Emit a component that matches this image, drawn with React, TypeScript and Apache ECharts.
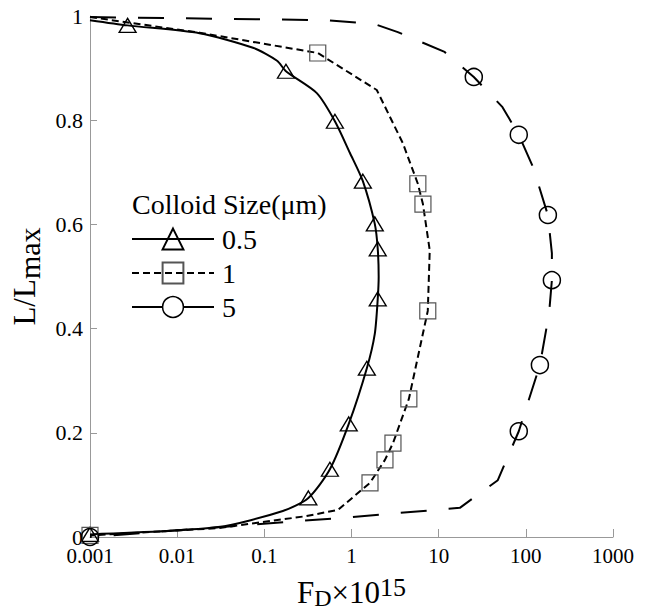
import React, { useEffect, useRef } from 'react';
import * as echarts from 'echarts';

const FONT = 'Liberation Serif';

const sizeNames = ['0.5', '1', '5'];
const legendTitle = 'Colloid Size(μm)';

// Colloid size 0.5 µm (solid, triangles)
const fd05 = [0.001, 0.0027, 0.018, 0.074, 0.14, 0.177, 0.4, 0.645, 0.96, 1.35, 1.85, 2.0, 2.05, 2.0, 1.85, 1.5, 0.93, 0.565, 0.32, 0.163, 0.0295, 0.001];
const l05 = [0.992, 0.982, 0.967, 0.939, 0.914, 0.894, 0.852, 0.798, 0.737, 0.683, 0.601, 0.553, 0.5, 0.457, 0.39, 0.324, 0.217, 0.13, 0.075, 0.05, 0.019, 0.005];
const mk05 = [0, 1, 0, 0, 0, 1, 0, 1, 0, 1, 1, 1, 0, 1, 0, 1, 1, 1, 1, 0, 0, 1];

// Colloid size 1 µm (short dash, squares)
const fd1 = [0.001, 0.018, 0.41, 1.95, 3.88, 5.77, 6.6, 7.9, 7.5, 4.55, 2.99, 2.42, 1.63, 0.7, 0.3, 0.03, 0.001];
const l1 = [0.998, 0.968, 0.929, 0.858, 0.756, 0.678, 0.639, 0.55, 0.434, 0.265, 0.18, 0.148, 0.104, 0.052, 0.04, 0.017, 0.003];
const mk1 = [0, 0, 1, 0, 0, 1, 1, 0, 1, 1, 1, 1, 1, 0, 0, 0, 1];

// Colloid size 5 µm (long dash, circles)
const fd5 = [0.001, 0.5, 1.8, 3.4, 11.7, 25.3, 54, 83, 121, 179, 199, 199, 185, 145, 83, 47.7, 17.5, 0.96, 0.001];
const l5 = [0.998, 0.992, 0.985, 0.969, 0.931, 0.883, 0.825, 0.772, 0.71, 0.618, 0.545, 0.493, 0.43, 0.33, 0.203, 0.109, 0.056, 0.038, 0.0];
const mk5 = [0, 0, 0, 0, 0, 1, 0, 1, 0, 1, 0, 1, 0, 1, 1, 0, 0, 0, 1];

const xMin = 0.001;
const xMax = 1000;
const yMin = 0;
const yMax = 1;
const yStep = 0.2;

function build(xs: number[], ys: number[], mk: number[], symbol: string) {
  return xs.map((x, i) => ({ value: [x, ys[i]], symbol: mk[i] ? symbol : 'none' }));
}

export default function App() {
  const ref = useRef<HTMLDivElement>(null);
  useEffect(() => {
    if (!ref.current) return;
    const chart = echarts.init(ref.current, undefined, { renderer: 'svg' });
    const axisGray = '#999';
    const option: any = {
      animation: false,
      backgroundColor: '#fff',
      textStyle: { fontFamily: FONT },
      title: {
        text: legendTitle,
        left: 132,
        top: 190,
        padding: 0,
        textStyle: { fontFamily: FONT, fontSize: 28, fontWeight: 'normal', color: '#000' },
      },
      legend: {
        orient: 'vertical',
        left: 131,
        top: 225,
        padding: 0,
        itemWidth: 82,
        itemHeight: 26,
        itemGap: 6,
        selectedMode: false,
        textStyle: { fontFamily: FONT, fontSize: 28, color: '#000', padding: [0, 0, 0, 3] },
        data: [
          { name: sizeNames[0] },
          { name: sizeNames[1] },
          {
            name: sizeNames[2],
            itemStyle: { color: '#fff', borderColor: '#000', borderWidth: 1.5 },
            lineStyle: { type: 'solid', color: '#000', width: 2 },
          },
        ],
      },
      grid: { left: 90, right: 33, top: 16, bottom: 73, containLabel: false, outerBoundsMode: 'none' },
      xAxis: {
        type: 'log',
        logBase: 10,
        min: xMin,
        max: xMax,
        name: '{a|F}{s|D}{a|×10}{p|15}',
        nameLocation: 'middle',
        nameGap: 37,
        nameTextStyle: {
          rich: {
            a: { fontFamily: FONT, fontSize: 31, color: '#000', lineHeight: 36, verticalAlign: 'middle' },
            s: { fontFamily: FONT, fontSize: 24, color: '#000', lineHeight: 16, verticalAlign: 'bottom' },
            p: { fontFamily: FONT, fontSize: 26, color: '#000', lineHeight: 16, verticalAlign: 'top' },
          },
        },
        axisLine: { lineStyle: { color: axisGray, width: 1 } },
        axisTick: { inside: true, length: 8, lineStyle: { color: axisGray } },
        minorTick: { show: false },
        splitLine: { show: false },
        axisLabel: {
          fontFamily: FONT,
          fontSize: 21,
          color: '#000',
          margin: 8,
          formatter: (v: number) => String(Number(v.toPrecision(3))),
        },
      },
      yAxis: {
        type: 'value',
        min: yMin,
        max: yMax,
        interval: yStep,
        name: '{a|L/L}{s|max}',
        nameLocation: 'middle',
        nameGap: 41,
        nameRotate: 90,
        nameTextStyle: {
          rich: {
            a: { fontFamily: FONT, fontSize: 31, color: '#000', lineHeight: 40, verticalAlign: 'middle' },
            s: { fontFamily: FONT, fontSize: 30, color: '#000', lineHeight: 34, verticalAlign: 'bottom' },
          },
        },
        axisLine: { show: true, lineStyle: { color: axisGray, width: 1 } },
        axisTick: { show: true, inside: true, length: 7, lineStyle: { color: axisGray } },
        splitLine: { show: false },
        axisLabel: {
          fontFamily: FONT,
          fontSize: 22,
          color: '#000',
          margin: 7,
          formatter: (v: number) => String(Number(v.toFixed(1))),
        },
      },
      series: [
        {
          name: sizeNames[0],
          type: 'line',
          data: build(fd05, l05, mk05, 'triangle'),
          symbol: 'triangle',
          symbolSize: [17, 14],
          showSymbol: true,
          smooth: 0.25,
          lineStyle: { color: '#000', width: 2, type: 'solid' },
          itemStyle: { color: 'rgba(0,0,0,0)', borderColor: '#000', borderWidth: 1.3 },
          z: 3,
        },
        {
          name: sizeNames[1],
          type: 'line',
          data: build(fd1, l1, mk1, 'rect'),
          symbol: 'rect',
          symbolSize: 16,
          showSymbol: true,
          lineStyle: { color: '#000', width: 2, type: [7, 4] },
          itemStyle: { color: 'rgba(0,0,0,0)', borderColor: '#555', borderWidth: 1.2 },
          z: 3,
        },
        {
          name: sizeNames[2],
          type: 'line',
          data: build(fd5, l5, mk5, 'circle'),
          symbol: 'circle',
          symbolSize: 17,
          showSymbol: true,
          lineStyle: { color: '#000', width: 2, type: [26, 22] },
          itemStyle: { color: 'rgba(0,0,0,0)', borderColor: '#000', borderWidth: 1.5 },
          z: 3,
        },
      ],
    };
    chart.setOption(option);
    return () => chart.dispose();
  }, []);
  return <div ref={ref} style={{ width: 646, height: 610, position: 'absolute', left: 0, top: 0 }} />;
}
